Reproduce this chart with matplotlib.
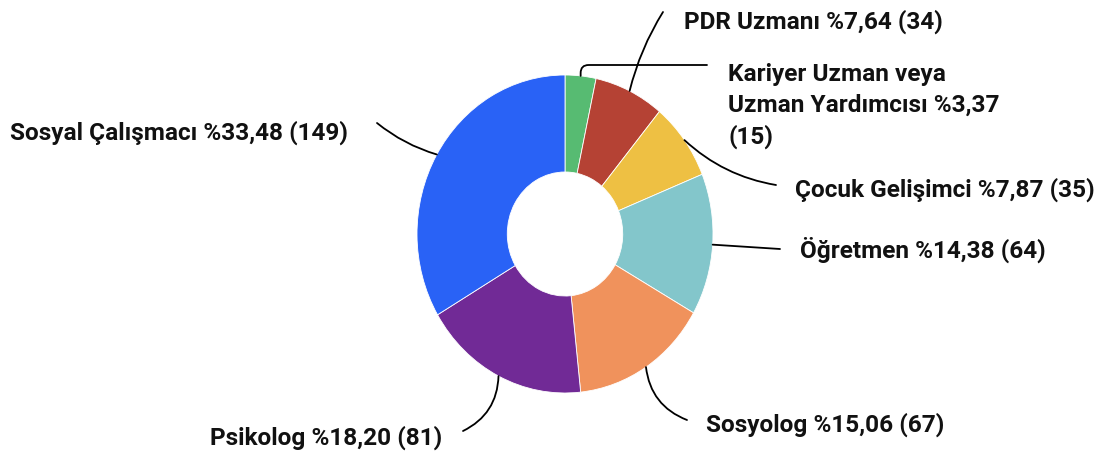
import matplotlib
matplotlib.use('Agg')
import matplotlib.pyplot as plt
import numpy as np

# %% Data

labels = ['Kariyer Uzman veya\nUzman Yardımcısı %3,37\n(15)',
          'PDR Uzmanı %7,64 (34)',
          'Çocuk Gelişimci %7,87 (35)',
          'Öğretmen %14,38 (64)',
          'Sosyolog %15,06 (67)',
          'Psikolog %18,20 (81)',
          'Sosyal Çalışmacı %33,48 (149)']
counts = [15, 34, 35, 64, 67, 81, 149]
colours = ['#57bb72', '#b54234', '#eec043', '#83c6cb', '#f0925c', '#712a96', '#2962f6']

# %% Layout (reference pixels)

W, H = 1103, 455
cx, cy = 565, 234      # pie centre
rx, ry = 148, 159      # pie radius in x / y

def px(x, y):
    #Convert image pixel position to data coords
    return (x - cx) / rx, (cy - y) / ry

#text left edge / vertical centre, line end, curve, anchor angle override
layout = [
    dict(text=(728, 106), end=(707, 65), style='angle,angleA=180,angleB=90,rad=8', ang=None),
    dict(text=(684, 22), end=(663, 12), style='arc3,rad=0.08', ang=None),
    dict(text=(795, 190), end=(776, 185), style='arc3,rad=-0.15', ang=None),
    dict(text=(800, 250), end=(780, 249), style='arc3,rad=0', ang=None),
    dict(text=(706, 425), end=(687, 420), style='arc3,rad=-0.3', ang=None),
    dict(text=(210, 438), end=(463, 431), style='arc3,rad=0.3', ang=None),
    dict(text=(10, 133), end=(377, 123), style='arc3,rad=0.1', ang=300),
]

# %% Plot

fig = plt.figure(figsize=(W / 100, H / 100), dpi=100)
ax = fig.add_axes([0, 0, 1, 1])

wedges, _ = ax.pie(counts, colors=colours, startangle=90, counterclock=False,
                   radius=1, wedgeprops=dict(width=0.61, edgecolor='white', linewidth=0.6))

ax.set_aspect('auto')
ax.set_xlim(-cx / rx, (W - cx) / rx)
ax.set_ylim((cy - H) / ry, cy / ry)
ax.axis('off')

total = sum(counts)
start = 0
for lab, n, lay in zip(labels, counts, layout):
    mid = start + n / total * 360 / 2
    start += n / total * 360
    ang = lay['ang'] if lay['ang'] is not None else mid
    #clockwise from top
    anchor = (np.sin(np.radians(ang)), np.cos(np.radians(ang)))
    ax.annotate('', xy=anchor, xytext=px(*lay['end']),
                arrowprops=dict(arrowstyle='-', color='black', lw=1.3,
                                shrinkA=0, shrinkB=0,
                                connectionstyle=lay['style']))
    ax.text(*px(*lay['text']), lab, ha='left', va='center',
            fontsize=17.6, fontweight='bold', family='Roboto',
            linespacing=1.4, color='#111111')

fig.savefig('out.png', dpi=100, facecolor='white')
